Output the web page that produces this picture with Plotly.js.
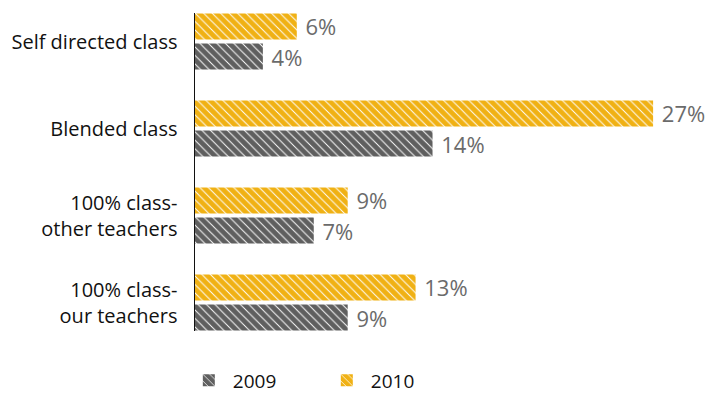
<!DOCTYPE html>
<html>
<head>
<meta charset="utf-8">
<script src="https://cdn.plot.ly/plotly-3.0.1.min.js"></script>
<style>html,body{margin:0;padding:0;background:#fff;}#chart{width:708px;height:397px;}</style>
</head>
<body>
<div id="chart"></div>
<script>
// Categories listed bottom to top
var categories = ["100% class-<br>our teachers", "100% class-<br>other teachers", "Blended class", "Self directed class"];
var values2009 = [9, 7, 14, 4];
var values2010 = [13, 9, 27, 6];
var seriesNames = ["2009", "2010"];
var colors = ["#5f5f5f", "#f0b114"];

var FONT = "'Open Sans', 'DejaVu Sans', sans-serif";

function makeTrace(vals, name, color) {
  return {
    type: "bar",
    orientation: "h",
    name: name,
    y: categories,
    x: vals,
    text: vals.map(function (v) { return "\u00a0" + v + "%"; }),
    textposition: "outside",
    constraintext: "none",
    cliponaxis: false,
    textfont: {family: FONT, size: 22, color: "#6b6b6b"},
    marker: {
      color: color,
      line: {width: 0},
      pattern: {shape: "\\", bgcolor: color, fgcolor: "#ffffff", fgopacity: 1, size: 6, solidity: 0.16}
    },
    hoverinfo: "none"
  };
}

var data = [
  makeTrace(values2009, seriesNames[0], colors[0]),
  makeTrace(values2010, seriesNames[1], colors[1])
];

var layout = {
  width: 708,
  height: 397,
  margin: {l: 195, r: 4, t: 13, b: 66, autoexpand: false},
  paper_bgcolor: "#ffffff",
  plot_bgcolor: "#ffffff",
  font: {family: FONT, size: 20, color: "#111111"},
  barmode: "group",
  bargap: 0.31,
  bargroupgap: 0.133,
  showlegend: true,
  legend: {
    orientation: "h",
    x: -0.02, xanchor: "left",
    y: -0.215, yanchor: "bottom",
    itemwidth: 38,
    entrywidth: 85, entrywidthmode: "pixels",
    font: {family: FONT, size: 19, color: "#111111"},
    traceorder: "normal"
  },
  xaxis: {
    range: [0, 30],
    showgrid: false, zeroline: false, showline: false,
    showticklabels: false, ticks: ""
  },
  yaxis: {
    type: "category",
    categoryorder: "array",
    categoryarray: categories,
    range: [-0.3276, 3.3276],
    showgrid: false, zeroline: false,
    showline: true, linecolor: "#111111", linewidth: 1.5,
    ticks: "", ticklabelstandoff: 12,
    tickfont: {family: FONT, size: 20, color: "#111111"}
  }
};

Plotly.newPlot("chart", data, layout, {displayModeBar: false, staticPlot: true});
</script>
</body>
</html>
